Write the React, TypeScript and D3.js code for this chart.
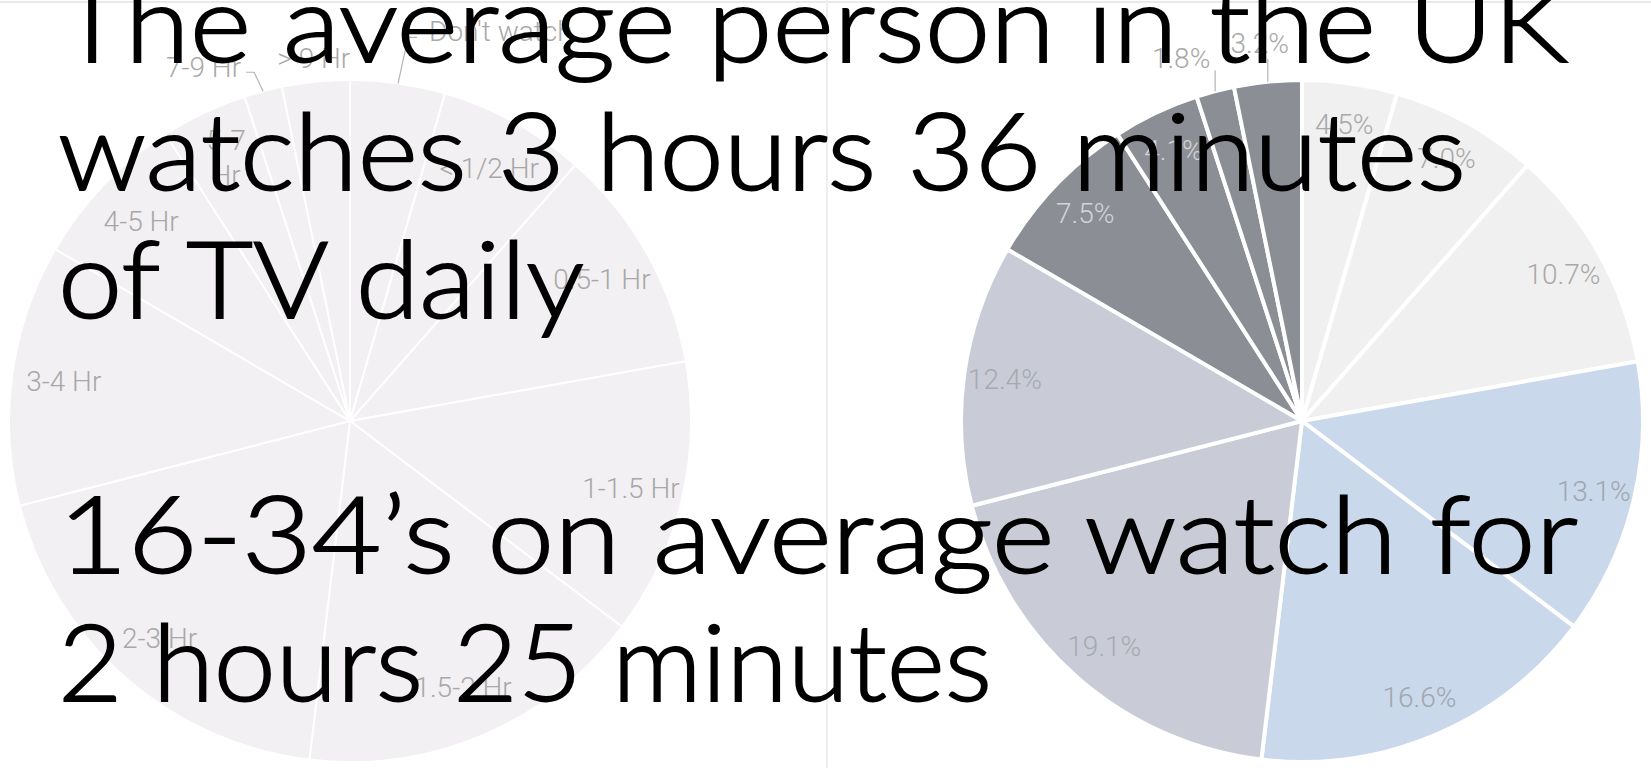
import React from "react";
import * as d3 from "d3";

// ---- Data ----
const categories = [
  "Don't watch",
  "< 1/2 Hr",
  "0.5-1 Hr",
  "1-1.5 Hr",
  "1.5-2 Hr",
  "2-3 Hr",
  "3-4 Hr",
  "4-5 Hr",
  "5-7 Hr",
  "7-9 Hr",
  "> 9 Hr",
];
const shares = [4.5, 7.0, 10.7, 13.1, 16.6, 19.1, 12.4, 7.5, 4.1, 1.8, 3.2];
const sliceGroups = ["light", "light", "light", "blue", "blue", "slate", "slate", "dark", "dark", "dark", "dark"];

const headlineLines = ["The average person in the UK", "watches 3 hours 36 minutes", "of TV daily"];
const subLines = ["16-34\u2019s on average watch for", "2 hours 25 minutes"];

// ---- Styling / layout ----
const W = 1651;
const H = 768;
const R = 341;
const leftC = { x: 350, y: 421 };
const rightC = { x: 1302, y: 421 };
const groupFill: Record<string, string> = {
  light: "#f1f0f1",
  blue: "#c9d8ea",
  slate: "#c9ccd6",
  dark: "#8b8e94",
};
const groupText: Record<string, string> = {
  light: "#a8a8a8",
  blue: "#a0a6ae",
  slate: "#a6a9b2",
  dark: "#d3d4d6",
};
// label placements relative to the slice's outer-edge point
const leftOutside: Record<number, any> = {
  0: { leader: [[10, -46], [19, -46]], text: [31, -42], anchor: "start" },
  9: { leader: [[-9, -19], [-17, -19]], text: [-22, -14], anchor: "end" },
  10: { leader: null, text: [-2, -14], anchor: "middle" },
};
const rightOutside: Record<number, any> = {
  9: { leader: [[0, -21]], text: [-34, -23], anchor: "middle" },
  10: { leader: [[0, -23]], text: [-8, -29], anchor: "middle" },
};
const lineWidths = [1510, 1408, 526, 1520, 934];

const labelFont = "Roboto, 'Liberation Sans', sans-serif";

export default function App() {
  const pie = d3
    .pie<number>()
    .sort(null)
    .value((d) => d)
    .startAngle(0)
    .endAngle(2 * Math.PI);
  const arcs = pie(shares);
  const arc = d3.arc<d3.PieArcDatum<number>>().innerRadius(0).outerRadius(R);
  const fmt = d3.format(".1f");

  const edgePoint = (a: d3.PieArcDatum<number>, c: { x: number; y: number }) => {
    const m = (a.startAngle + a.endAngle) / 2;
    return [c.x + R * Math.sin(m), c.y - R * Math.cos(m)];
  };
  const inner = (a: d3.PieArcDatum<number>, c: { x: number; y: number }, r: number) => {
    const ia = d3.arc<d3.PieArcDatum<number>>().innerRadius(r).outerRadius(r);
    const [x, y] = ia.centroid(a);
    return [c.x + x, c.y + y];
  };

  return (
    <svg
      width={W}
      height={H}
      style={{ position: "absolute", left: 0, top: 0, background: "#fff" }}
    >
      <rect x={0} y={0} width={W} height={H} fill="#ffffff" />
      <line x1={0} x2={W} y1={2} y2={2} stroke="#e9e9e9" strokeWidth={2} />
      <line x1={827} x2={827} y1={0} y2={H} stroke="#eeeeee" strokeWidth={2} />

      {/* Left pie: category labels */}
      <g transform={`translate(${leftC.x},${leftC.y})`}>
        {arcs.map((a, i) => (
          <path key={i} d={arc(a) || ""} fill="#f2f0f2" stroke="#ffffff" strokeWidth={2} />
        ))}
      </g>
      <g fontFamily={labelFont} fontWeight={300} fontSize={28} fill="#a8a8a8">
        {arcs.map((a, i) => {
          const o = leftOutside[i];
          if (o) {
            const [ex, ey] = edgePoint(a, leftC);
            const pts = [[ex, ey], ...(o.leader || []).map((p: number[]) => [ex + p[0], ey + p[1]])];
            return (
              <g key={i}>
                {o.leader && (
                  <polyline
                    points={pts.map((p) => p.join(",")).join(" ")}
                    fill="none"
                    stroke="#b5b5b5"
                    strokeWidth={1.2}
                  />
                )}
                <text x={ex + o.text[0]} y={ey + o.text[1]} textAnchor={o.anchor}>
                  {categories[i]}
                </text>
              </g>
            );
          }
          const [x, y] = inner(a, leftC, 289);
          if (categories[i] === "5-7 Hr") {
            return (
              <text key={i} textAnchor="middle">
                <tspan x={x} y={y - 10}>5-7</tspan>
                <tspan x={x} y={y + 25}>Hr</tspan>
              </text>
            );
          }
          return (
            <text key={i} x={x} y={y} dy="0.35em" textAnchor="middle">
              {categories[i]}
            </text>
          );
        })}
      </g>

      {/* Right pie: percentages */}
      <g transform={`translate(${rightC.x},${rightC.y})`}>
        {arcs.map((a, i) => (
          <path
            key={i}
            d={arc(a) || ""}
            fill={groupFill[sliceGroups[i]]}
            stroke="#ffffff"
            strokeWidth={4}
          />
        ))}
      </g>
      <g fontFamily={labelFont} fontWeight={300} fontSize={28}>
        {arcs.map((a, i) => {
          const o = rightOutside[i];
          const label = fmt(shares[i]) + "%";
          if (o) {
            const [ex, ey] = edgePoint(a, rightC);
            const pts = [[ex, ey], ...o.leader.map((p: number[]) => [ex + p[0], ey + p[1]])];
            return (
              <g key={i}>
                <polyline
                  points={pts.map((p) => p.join(",")).join(" ")}
                  fill="none"
                  stroke="#b5b5b5"
                  strokeWidth={1.2}
                />
                <text x={ex + o.text[0]} y={ey + o.text[1]} textAnchor={o.anchor} fill="#a8a8a8">
                  {label}
                </text>
              </g>
            );
          }
          const [x, y] = inner(a, rightC, 300);
          return (
            <text key={i} x={x} y={y} dy="0.35em" textAnchor="middle" fill={groupText[sliceGroups[i]]}>
              {label}
            </text>
          );
        })}
      </g>

      {/* Overlay text */}
      <g
        fontFamily="Lato, 'Open Sans', sans-serif"
        fontWeight={300}
        fontSize={106}
        fill="#000000"
        stroke="#000000"
        strokeWidth={1.8}
      >
        {headlineLines.map((t, i) => (
          <text
            key={"h" + i}
            x={58}
            y={62 + i * 128}
            textLength={lineWidths[i]}
            lengthAdjust="spacingAndGlyphs"
          >
            {t}
          </text>
        ))}
        {subLines.map((t, i) => (
          <text
            key={"s" + i}
            x={58}
            y={573 + i * 128}
            textLength={lineWidths[3 + i]}
            lengthAdjust="spacingAndGlyphs"
          >
            {t}
          </text>
        ))}
      </g>
    </svg>
  );
}
